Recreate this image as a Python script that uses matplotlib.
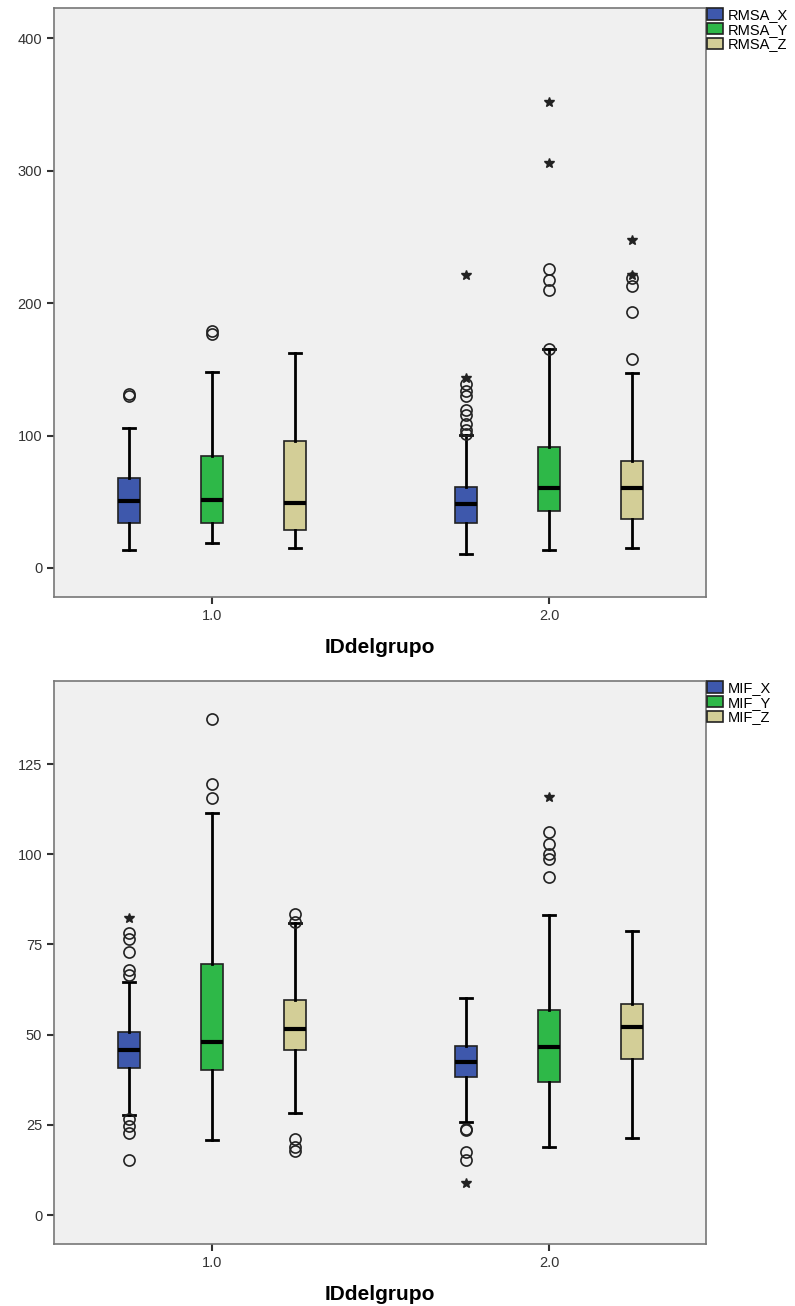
import matplotlib
matplotlib.use('Agg')
import matplotlib.pyplot as plt
from matplotlib.patches import Patch

plt.rcParams['font.family'] = ['Liberation Sans', 'DejaVu Sans']

# datos (por grupo 1.0 / 2.0, luego variable X, Y, Z)
grupos = [1.0, 2.0]
colores = ['#3e58ac', '#2eb848', '#d3ce97']

rmsa_nombres = ['RMSA_X', 'RMSA_Y', 'RMSA_Z']
rmsa_q1 = [[33.6, 33.6, 28.5], [34.2, 42.6, 37.0]]
rmsa_med = [[50.4, 51.0, 49.0], [48.0, 60.0, 60.6]]
rmsa_q3 = [[68.0, 84.6, 96.0], [61.2, 91.5, 81.0]]
rmsa_wlo = [[13.5, 18.6, 14.7], [10.5, 13.5, 15.0]]
rmsa_whi = [[105.6, 148.0, 162.6], [100.5, 165.0, 147.6]]
rmsa_circ = [
    [[129.5, 131.0], [177.0, 179.0], []],
    [[101.0, 104.0, 108.6, 115.5, 119.0, 130.0, 134.0, 138.6],
     [165.0, 210.0, 217.6, 226.0],
     [158.0, 193.5, 213.0, 219.0]],
]
rmsa_star = [
    [[], [], []],
    [[143.4, 221.0], [306.0, 351.7], [221.5, 248.0]],
]

mif_nombres = ['MIF_X', 'MIF_Y', 'MIF_Z']
mif_q1 = [[40.7, 40.1, 45.8], [38.2, 37.0, 43.2]]
mif_med = [[45.8, 48.0, 51.7], [42.5, 46.6, 52.0]]
mif_q3 = [[50.8, 69.6, 59.7], [47.0, 56.7, 58.4]]
mif_wlo = [[27.7, 20.8, 28.4], [25.8, 18.8, 21.3]]
mif_whi = [[64.6, 111.4, 80.9], [60.3, 83.1, 78.6]]
mif_circ = [
    [[66.6, 67.9, 72.8, 76.4, 78.3, 26.6, 24.7, 22.7, 15.2],
     [115.6, 119.4, 137.4],
     [81.2, 83.4, 21.0, 18.8, 17.7]],
    [[23.6, 24.0, 17.6, 15.4],
     [93.8, 98.8, 100.0, 102.8, 106.1],
     []],
]
mif_star = [
    [[82.3], [], []],
    [[9.0], [115.9], []],
]

desplaz = [-0.246, 0.0, 0.246]
ancho = 0.065


def dibujar(ax, nombres, q1, med, q3, wlo, whi, circ, star, ylim, yticks):
    ax.set_facecolor('#f0f0f0')
    for g, gx in enumerate(grupos):
        for v in range(3):
            pos = gx + desplaz[v]
            st = [{'med': med[g][v], 'q1': q1[g][v], 'q3': q3[g][v],
                   'whislo': wlo[g][v], 'whishi': whi[g][v],
                   'fliers': circ[g][v]}]
            ax.bxp(st, positions=[pos], widths=ancho, patch_artist=True,
                   capwidths=ancho * 0.55,
                   boxprops=dict(facecolor=colores[v], edgecolor='#222222', linewidth=1.2),
                   medianprops=dict(color='black', linewidth=3),
                   whiskerprops=dict(color='black', linewidth=2),
                   capprops=dict(color='black', linewidth=2),
                   flierprops=dict(marker='o', markerfacecolor='none',
                                   markeredgecolor='#222222', markersize=8,
                                   markeredgewidth=1.2, linestyle='none'))
            if star[g][v]:
                ax.plot([pos] * len(star[g][v]), star[g][v], linestyle='none',
                        marker='*', color='#222222', markersize=7)
    ax.set_xlim(0.531, 2.466)
    ax.set_ylim(*ylim)
    ax.set_yticks(yticks)
    ax.set_xticks(grupos)
    ax.set_xticklabels(['1.0', '2.0'])
    ax.set_xlabel('IDdelgrupo', fontsize=15, fontweight='bold', labelpad=11)
    ax.tick_params(labelsize=10.5, colors='#333333', length=5, width=1.5)
    for s in ax.spines.values():
        s.set_color('#777777')
        s.set_linewidth(1.2)


fig = plt.figure(figsize=(7.95, 13.06), dpi=100)
ax1 = fig.add_axes([54 / 795, 1 - 597 / 1306, 652 / 795, 589 / 1306])
ax2 = fig.add_axes([54 / 795, 1 - 1244 / 1306, 652 / 795, 563 / 1306])

dibujar(ax1, rmsa_nombres, rmsa_q1, rmsa_med, rmsa_q3, rmsa_wlo, rmsa_whi,
        rmsa_circ, rmsa_star, (-22, 423), [0, 100, 200, 300, 400])
dibujar(ax2, mif_nombres, mif_q1, mif_med, mif_q3, mif_wlo, mif_whi,
        mif_circ, mif_star, (-8, 148), [0, 25, 50, 75, 100, 125])

for ax, nombres, ytop in [(ax1, rmsa_nombres, 8), (ax2, mif_nombres, 681)]:
    hs = [Patch(facecolor=c, edgecolor='#222222', linewidth=1.2) for c in colores]
    fig.legend(hs, nombres, loc='upper left',
               bbox_to_anchor=(707 / 795, 1 - ytop / 1306),
               frameon=False, fontsize=10.5, borderpad=0, borderaxespad=0,
               handlelength=1.1, handleheight=0.8, handletextpad=0.3,
               labelspacing=0.05)

fig.savefig('out.png', dpi=100)
